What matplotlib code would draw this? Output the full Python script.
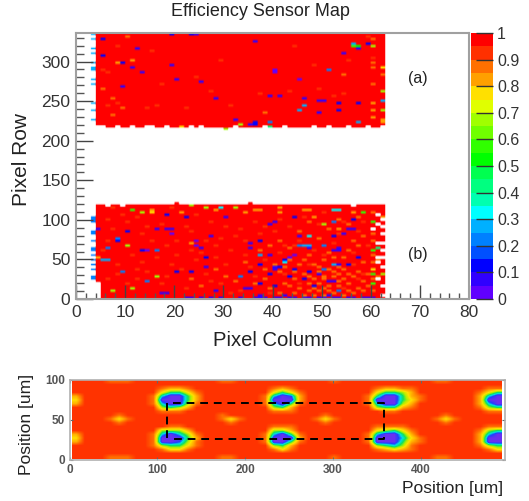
import numpy as np
import matplotlib
matplotlib.use('Agg')
import matplotlib.pyplot as plt
from matplotlib.colors import ListedColormap, BoundaryNorm, LinearSegmentedColormap

plt.rcParams['font.family'] = ['Liberation Sans', 'DejaVu Sans']

W, H = 529, 501

# palette of the colour scale, from 0 to 1
palette = ['#6000ff', '#3000ff', '#0000ff', '#0050ff', '#0080ff', '#00b0ff', '#00ffff', '#00ffb0', '#00ff80', '#00ff50',
           '#00ff00', '#30ff00', '#70ff00', '#a0ff00', '#e0ff00', '#ffe000', '#ffa000', '#ff7000', '#ff3000', '#ff0000']
cbar_ticks = [0, 0.1, 0.2, 0.3, 0.4, 0.5, 0.6, 0.7, 0.8, 0.9, 1]
cbar_labels = ['0', '0.1', '0.2', '0.3', '0.4', '0.5', '0.6', '0.7', '0.8', '0.9', '1']

# columns 4..62, lowest filled row of the upper block
upper_low_edge = [219, 219, 216, 216, 219, 216, 216, 219, 216, 216, 219, 219, 216, 216, 219, 216, 216, 216, 216, 219,
                  216, 219, 216, 216, 216, 216, 216, 216, 219, 216, 216, 216, 216, 216, 219, 216, 216, 216, 219, 216,
                  216, 216, 216, 216, 219, 216, 216, 219, 216, 216, 216, 219, 216, 216, 216, 219, 216, 216, 219]
# columns 4..62, highest filled row of the lower block
lower_high_edge = [117, 117, 114, 117, 117, 114, 117, 117, 117, 117, 117, 117, 117, 117, 117, 117, 120, 117, 117, 117,
                   117, 117, 117, 117, 117, 117, 117, 117, 117, 117, 117, 120, 117, 117, 117, 117, 117, 117, 117, 117,
                   117, 117, 117, 117, 117, 117, 117, 117, 117, 117, 117, 117, 114, 117, 117, 117, 117, 117, 117]
lower_missing_col4_rows = [0, 3, 6, 9, 12, 15, 18]

# (col, row, efficiency)
upper_cells = [(5, 327, .1), (12, 317, .08), (5, 307, .12), (11, 302, .85), (9, 298, .1), (8, 298, .85), (11, 293, .08),
               (13, 285, .08), (20, 276, .05), (25, 273, .08), (9, 267, .05), (19, 295, .08), (28, 252, .05),
               (23, 334, .15), (24, 333, .05), (19, 336, .1), (32, 226, .05), (33, 221, .7), (35, 221, .05), (36, 221, .1),
               (36, 324, .08), (10, 331, .87), (5, 265, .87), (7, 233, .87), (21, 216, .75), (30, 215, .65),
               (36, 325, .08), (59, 321, .1), (56, 323, .3), (56, 319, .55), (57, 318, .5), (57, 315, .05), (54, 309, .08),
               (60, 319, .7), (51, 289, .2), (40, 289, .02), (40, 287, .02), (45, 276, .02), (39, 257, .3), (39, 256, .05),
               (41, 255, .08), (46, 252, .08), (46, 245, .25), (49, 250, .05), (50, 250, .05), (53, 247, .1), (53, 239, .1),
               (57, 248, .15), (45, 237, .25), (49, 235, .05), (36, 222, .1), (39, 222, .2), (39, 217, .4), (57, 222, .3),
               (62, 291, .75), (60, 247, .82), (62, 250, .25), (62, 263, .7), (62, 237, .7), (60, 327, .87), (59, 331, .92),
               (54, 282, .88), (60, 298, .87), (60, 292, .87), (62, 283, .87), (60, 272, .87), (52, 257, .92), (49, 265, .9),
               (38, 234, .87), (54, 258, .92), (60, 238, .85), (60, 229, .85), (62, 226, .8), (62, 222, .85), (60, 303, .9),
               (15, 312, .92), (8, 318, .92), (17, 270, .92), (29, 300, .92), (31, 245, .92), (22, 240, .92), (27, 262, .92),
               (14, 242, .92), (24, 281, .92), (44, 318, .92), (48, 295, .92), (55, 300, .92), (43, 263, .92), (5, 290, .92),
               (6, 285, .92), (7, 252, .87), (8, 248, .92), (9, 241, .87), (6, 245, .92), (16, 243, .92), (37, 260, .92)]
upper_col3_rows = [333, 327, 317, 309, 298, 293, 289, 278, 270, 248, 237, 227]

# (col, row, efficiency)
lower_cells = [(30, 103, .05), (40, 96, .08), (39, 95, .08), (44, 102, .1), (56, 100, .1), (18, 105, .12), (16, 89, .08),
               (18, 87, .05), (19, 87, .05), (19, 82, .02), (27, 80, .05), (24, 73, .02), (24, 68, .02), (25, 65, .05),
               (23, 71, .8), (14, 60, .02), (35, 70, .05), (35, 65, .05), (37, 72, .1), (45, 79, .05), (44, 56, .02),
               (43, 51, .02), (37, 54, .3), (39, 54, .05), (42, 48, .1), (26, 41, .05), (40, 39, .05), (41, 39, .05),
               (37, 43, .1), (52, 43, .25), (53, 62, .08), (52, 60, .05), (55, 87, .05), (56, 88, .05), (52, 22, .05),
               (54, 13, .05), (34, 13, .05), (35, 14, .05), (28, 11, .05), (18, 8, .05), (17, 8, .05), (42, 5, .05),
               (37, 5, .05), (52, 113, .35), (53, 113, .35), (11, 112, .55), (15, 110, .75), (58, 108, .6), (62, 104, .8),
               (60, 96, .55), (5, 50, .3), (6, 50, .25), (4, 51, .85), (9, 35, .2), (13, 60, .1), (16, 60, .2), (16, 29, .7),
               (14, 21, .2), (11, 13, .7), (7, 10, .7), (23, 118, .7), (21, 108, .8), (13, 108, .7), (15, 113, .8),
               (20, 35, .1), (23, 35, .1), (26, 51, .1), (8, 77, .2), (8, 74, .1), (10, 67, .7), (6, 63, .2), (4, 88, .08),
               (10, 84, .1), (22, 102, .1), (29, 115, .35), (28, 113, .85), (32, 115, .7), (37, 113, .8), (34, 110, .85),
               (36, 112, .85), (41, 115, .85), (26, 115, .7), (41, 108, .85), (46, 112, .85), (47, 113, .8), (48, 102, .85),
               (50, 94, .7), (52, 96, .2), (53, 89, .85), (46, 66, .25), (47, 66, .3), (50, 66, .2), (52, 78, .3), (47, 80, .35),
               (56, 109, .85), (52, 79, .15), (54, 81, .05), (47, 65, .05), (45, 66, .2), (52, 61, .05), (53, 63, .05),
               (50, 67, .2), (42, 46, .35), (40, 41, .05), (41, 40, .1), (53, 44, .05), (49, 30, .05), (51, 21, .05),
               (45, 20, .05), (53, 9, .2), (51, 5, .05), (40, 16, .1), (40, 37, .05), (46, 24, .1), (48, 16, .1), (37, 20, .1),
               (44, 38, .1), (60, 61, .6), (60, 37, .75), (60, 30, .55), (60, 19, .55), (62, 31, .7), (61, 63, .4),
               (39, 30, .1), (43, 28, .15), (47, 34, .1), (50, 36, .2), (55, 43, .1), (57, 52, .1), (35, 33, .1), (33, 27, .2)]
lower_orange_cells = [(36, 18), (38, 24), (39, 12), (41, 8), (42, 20), (43, 15), (44, 6), (44, 26), (45, 12), (46, 4), (46, 31),
                      (47, 9), (47, 20), (47, 27), (48, 5), (48, 12), (48, 24), (49, 9), (49, 18), (49, 33), (50, 3), (50, 14),
                      (50, 24), (50, 29), (51, 9), (51, 17), (51, 37), (52, 6), (52, 27), (52, 33), (53, 15), (53, 21), (53, 30),
                      (54, 5), (54, 24), (54, 37), (55, 10), (55, 19), (55, 31), (56, 6), (56, 27), (57, 14), (57, 35), (58, 9),
                      (58, 23), (58, 45), (59, 15), (59, 30), (60, 9), (60, 24), (60, 45), (60, 54), (60, 72), (60, 81), (60, 87),
                      (60, 108), (61, 48), (61, 27), (38, 37), (40, 44), (41, 33), (42, 39), (43, 48), (44, 33), (45, 42),
                      (46, 48), (47, 54), (48, 42), (49, 39), (50, 48), (51, 57), (52, 51), (53, 39), (54, 51), (55, 60),
                      (56, 72), (57, 66), (58, 78), (37, 60), (39, 66), (41, 72), (43, 63), (45, 84), (47, 96), (49, 75),
                      (51, 87), (53, 99), (55, 93), (57, 102), (34, 45), (32, 21), (30, 27), (28, 36), (25, 15), (23, 24)]
lower_tint_cells = [(7, 114), (10, 96), (13, 81), (5, 60), (8, 42), (12, 36), (16, 51), (20, 72), (22, 90), (25, 57), (27, 96),
                    (29, 75), (31, 60), (33, 87), (36, 96), (40, 84), (43, 90), (46, 102), (50, 108), (54, 96), (57, 84),
                    (59, 66), (6, 24), (10, 18), (14, 33), (18, 27), (22, 12), (26, 30), (29, 18), (33, 9), (35, 39), (38, 48),
                    (41, 57), (44, 66), (48, 60), (52, 69), (56, 42), (58, 30), (34, 54), (30, 42), (24, 48), (20, 54), (15, 72),
                    (11, 54), (7, 87), (6, 99), (12, 102), (17, 93), (19, 114), (24, 105), (28, 66), (32, 78), (37, 81), (42, 66),
                    (9, 105), (14, 90), (18, 66), (23, 84), (26, 72), (30, 90), (34, 72), (38, 90), (41, 99), (45, 72), (49, 93),
                    (53, 81), (56, 57), (58, 96), (36, 27), (39, 6), (42, 30), (45, 18), (47, 42), (50, 54), (54, 12), (57, 24),
                    (31, 6), (27, 21), (21, 36), (17, 18), (12, 24), (8, 30), (6, 72), (13, 45), (19, 42), (23, 60), (28, 51)]
lower_col3_rows = [104, 101, 98, 85, 82, 74, 63, 60, 54, 49, 43, 37, 28, 25]
lower_row0_cols = [22, 23, 25, 27, 29, 33, 36, 37, 38, 40, 41, 43, 44, 46, 47, 49, 50, 52, 53, 55, 56, 58, 59, 60]
lower_missing_cells = [(61, 70), (61, 45), (61, 24), (61, 93), (62, 99), (62, 81), (62, 60), (62, 39), (62, 15), (62, 3),
                       (60, 87), (62, 69), (61, 51), (62, 51), (62, 90), (61, 106)]

# efficiency levels of the position scan, 10 um across and 5 um down, y = 100 at the top
scan_rows = [
    '888877788 888888 8877888 88888 8887888 8888888 87788 8888',
    '888888888 888888 8888888 88888 8888888 8888888 88888 8888',
    '888888888 876678 8888888 87678 8888888 8766778 88888 8877',
    '888888888 853357 8888888 85357 8888888 8533468 88888 8753',
    '688888888 720036 8888888 72016 8888888 7300367 88888 8620',
    '588888888 700036 8888888 70006 8888888 7000357 88888 8600',
    '688888888 720047 8888888 72037 8888888 7200468 88888 8620',
    '888888888 843468 8888888 84368 8888888 8433678 88888 8743',
    '888888888 877788 8888888 87778 8888888 8877888 88888 8877',
    '888887888 888888 8878888 88888 8878888 8888888 88788 8888',
    '888875788 888888 8875788 88888 8757888 8888888 87578 8888',
    '888887888 888888 8887888 88888 8878888 8888888 88788 8888',
    '888888888 887788 8888888 87778 8888888 8777788 88888 8877',
    '888888888 844468 8888888 84468 8888888 8543578 88888 8743',
    '688888888 720247 8888888 72037 8888888 7200368 88888 8620',
    '588888888 700036 8888888 70006 8888888 7000257 88888 8600',
    '688888888 700147 8888888 70037 8888888 7000367 88888 8600',
    '888888888 743357 8888888 84368 8888888 8432478 88888 8743',
    '888888888 875578 8888888 87578 8888888 8765678 88888 8875',
    '888888888 888888 8888888 88888 8888888 8888888 88888 8888',
    '888877788 888888 8877888 88888 8887888 8888888 87788 8888',
]
scan_colors = ['#6a30f0', '#2040ff', '#00e0e0', '#10e060', '#b0f000', '#ffe000', '#ffb000', '#ff7000', '#ff3300']
rect_x = [118, 358, 358, 118]
rect_y = [71, 71, 26, 26]
rect_left_x = [111, 111]
rect_left_y = [71, 26]


def px_axes(left, top, right, bottom):
    return fig.add_axes([left / W, 1 - bottom / H, (right - left) / W, (bottom - top) / H])


fig = plt.figure(figsize=(W / 100, H / 100), dpi=100)

# upper map
eff = np.full((112, 80), np.nan)
for i, r in enumerate(upper_low_edge):
    eff[r // 3:, 4 + i] = 1.0
for i, r in enumerate(lower_high_edge):
    eff[:r // 3 + 1, 4 + i] = 1.0
for r in lower_missing_col4_rows:
    eff[r // 3, 4] = np.nan
for c, r, v in upper_cells + lower_cells:
    eff[min(r // 3, 111), c] = v
for c, r in lower_orange_cells:
    eff[r // 3, c] = 0.87
for c, r in lower_tint_cells:
    eff[r // 3, c] = 0.92
for r in upper_col3_rows:
    eff[r // 3, 3] = 0.25
for r in lower_col3_rows:
    eff[r // 3, 3] = 0.2
for c in lower_row0_cols:
    eff[0, c] = 0.05
for c, r in lower_missing_cells:
    eff[r // 3, c] = np.nan

cmap = ListedColormap(palette)
cmap.set_bad((1, 1, 1, 0))
norm = BoundaryNorm(np.linspace(0, 1, 21), 20)

ax = px_axes(76, 33, 469, 299)
# repeat across so a cell keeps its streak shape under the soft resampling
eff_big = np.repeat(eff, 3, axis=1)
ax.imshow(eff_big, origin='lower', aspect='auto', extent=[0, 80, 0, 336], cmap=cmap, norm=norm,
          interpolation='bilinear', interpolation_stage='rgba')
ax.set_xlim(0, 80)
ax.set_ylim(0, 336)
ax.set_xticks(range(0, 81, 10))
ax.set_xticks(range(0, 81, 2), minor=True)
ax.set_yticks(range(0, 301, 50))
ax.set_yticks(range(0, 336, 10), minor=True)
ax.tick_params(which='major', axis='x', direction='in', length=10, width=1, color='#444444', labelsize=12.5, labelcolor='#333333', pad=4)
ax.tick_params(which='minor', axis='x', direction='in', length=4, width=1, color='#555555')
ax.tick_params(which='major', axis='y', direction='in', length=12, width=1, color='#444444', labelsize=12.5, labelcolor='#333333', pad=4)
ax.tick_params(which='minor', axis='y', direction='in', length=6, width=1, color='#555555')
for s in ax.spines.values():
    s.set_color('#a0a0a0')
    s.set_linewidth(1.5)
fig.text(418 / W, 1 - 79 / H, '(a)', ha='center', va='center', fontsize=11.5, color='#222222')
fig.text(418 / W, 1 - 255 / H, '(b)', ha='center', va='center', fontsize=11.5, color='#222222')
fig.text(260 / W, 1 - 11 / H, 'Efficiency Sensor Map', ha='center', va='center', fontsize=13, color='#222222')
fig.text(22 / W, 1 - 160 / H, 'Pixel Row', ha='center', va='center', rotation=90, fontsize=15, color='#222222')
fig.text(273 / W, 1 - 340 / H, 'Pixel Column', ha='center', va='center', fontsize=14.6, color='#222222')

# colour scale
cax = px_axes(471, 33, 493, 299)
cax.imshow(np.linspace(0.025, 0.975, 20).reshape(-1, 1), origin='lower', aspect='auto', extent=[0, 1, 0, 1], cmap=cmap, norm=norm,
           interpolation='nearest')
cax.set_xticks([])
cax.yaxis.tick_right()
cax.set_yticks(cbar_ticks)
cax.set_yticklabels(cbar_labels)
cax.tick_params(axis='y', direction='in', length=12, width=1, color='#333333', labelsize=11.5, labelcolor='#333333', pad=3)
for s in cax.spines.values():
    s.set_visible(False)

# position scan
scan = np.array([[int(ch) for ch in ''.join(row.split())] for row in scan_rows], dtype=float)
scan_cmap = LinearSegmentedColormap.from_list('scan', scan_colors)
ax2 = px_axes(69.5, 380, 505, 460)
ax2.imshow(scan, origin='upper', aspect='auto', extent=[3, 492, 1, 100], cmap=scan_cmap, vmin=0, vmax=8,
           interpolation='bilinear')
ax2.plot(rect_x, rect_y, color='black', lw=1.4, dashes=(4, 3))
ax2.plot(rect_left_x, rect_left_y, color='black', lw=1.4, dashes=(4, 3))
ax2.set_xlim(0, 496)
ax2.set_ylim(0, 100)
ax2.set_xticks([0, 100, 200, 300, 400])
ax2.set_yticks([0, 50, 100])
ax2.tick_params(axis='both', direction='in', length=2, width=0.8, color='#666666', labelsize=8.5, labelcolor='#555555', pad=3, top=True, right=True)
for s in ax2.spines.values():
    s.set_color('#b0b0b0')
    s.set_linewidth(1.2)
for lab in ax2.get_xticklabels() + ax2.get_yticklabels():
    lab.set_fontweight('bold')
fig.text(27 / W, 1 - 424 / H, 'Position [um]', ha='center', va='center', rotation=90, fontsize=12.6, color='#222222')
fig.text(453 / W, 1 - 489 / H, 'Position [um]', ha='center', va='center', fontsize=12.6, color='#222222')

fig.savefig('out.png', dpi=100)
